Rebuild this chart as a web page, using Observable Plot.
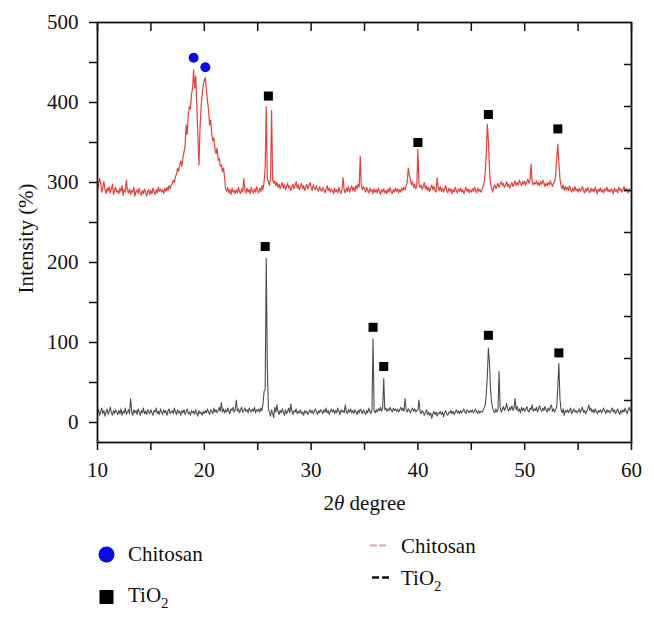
<!DOCTYPE html>
<html>
<head>
<meta charset="utf-8">
<script src="https://cdn.jsdelivr.net/npm/d3@7"></script>
<script src="https://cdn.jsdelivr.net/npm/@observablehq/plot@0.6"></script>
<style>
  html, body { margin: 0; padding: 0; background: #fff; }
  body { width: 654px; height: 621px; overflow: hidden; font-family: "Liberation Serif", serif; }
  #chart svg { display: block; }
  #legend { display: block; }
  #chart text, #legend text { font-family: "Liberation Serif", serif !important; }
</style>
</head>
<body>
<div id="chart"></div>
<svg id="legend" width="654" height="100"></svg>
<script>
// ---- data ----
const twoThetaStart = 10;
const twoThetaStep = 0.1;

// upper (red) pattern, 10.0 .. 60.0 step 0.1
const chitosanIntensity = [
  292,296,305,299,288,294,301,291,286,293,
  289,295,287,292,298,285,291,294,288,290,
  286,293,289,296,284,291,288,303,290,287,
  292,285,290,288,294,283,289,291,286,293,
  287,284,290,286,292,288,283,289,291,285,
  290,286,293,288,285,291,287,294,289,292,
  288,291,286,293,289,294,290,296,292,297,
  299,303,300,307,311,318,314,322,327,320,
  331,338,346,372,360,384,395,392,410,418,
  441,418,433,396,360,322,368,395,410,421,
  428,431,415,402,390,372,378,360,352,356,
  341,336,343,328,330,320,322,314,318,306,
  292,289,294,287,291,285,293,288,290,286,
  291,287,294,289,286,292,288,305,290,287,
  293,288,291,286,294,289,287,292,288,295,
  290,287,293,289,296,291,301,318,395,305,
  301,296,305,390,303,299,302,296,300,294,
  298,292,296,300,293,297,291,295,299,293,
  296,290,294,298,292,296,301,293,297,291,
  295,299,292,296,290,294,298,292,296,300,
  294,290,297,293,291,296,292,289,295,291,
  289,294,291,287,292,296,290,293,288,292,
  290,286,293,288,291,287,294,289,286,292,
  306,290,287,293,289,295,288,292,296,290,
  294,289,296,292,298,294,333,296,291,295,
  292,288,294,290,287,293,289,291,286,292,
  288,291,287,293,289,285,291,288,292,287,
  290,286,292,288,294,289,286,291,288,293,
  289,292,287,291,288,293,290,294,291,296,
  300,318,309,304,297,301,294,298,292,296,
  341,298,294,297,291,295,300,292,296,290,
  294,289,293,297,291,295,290,288,306,294,
  290,295,289,293,288,292,296,290,287,293,
  289,292,286,291,288,294,290,287,292,289,
  293,288,291,286,290,294,289,292,287,291,
  288,292,289,294,290,287,293,289,291,288,
  292,295,300,312,335,373,352,318,298,293,
  288,294,297,292,296,299,294,298,301,296,
  299,294,297,301,295,298,293,297,300,295,
  298,302,296,300,297,303,299,296,301,298,
  302,297,300,304,299,303,323,301,297,300,
  298,302,297,300,296,301,298,303,299,295,
  299,296,300,297,302,298,295,299,301,308,
  330,348,325,305,296,292,297,290,295,291,
  294,290,296,291,288,293,289,295,290,292,
  288,293,289,291,295,290,287,292,289,294,
  290,287,293,289,292,288,294,290,286,292,
  289,293,288,291,287,292,290,294,289,291,
  288,292,290,286,293,289,291,287,294,290,
  292,288,291,295,289,293,290,287,292,289,
  291
];

// lower (dark grey) pattern, 10.0 .. 60.0 step 0.1
const tio2Intensity = [
  12,16,9,14,18,11,15,8,13,17,
  10,14,19,12,9,15,11,16,13,10,
  15,11,17,9,14,12,18,10,13,16,
  11,30,14,9,16,12,15,10,17,13,
  9,15,12,18,11,14,10,16,13,11,
  16,12,9,15,13,18,11,14,10,17,
  13,10,16,12,15,9,14,17,11,13,
  15,11,18,13,10,16,12,14,9,15,
  12,16,10,14,17,11,13,9,15,12,
  14,10,16,12,8,15,11,13,9,14,
  11,15,12,17,13,10,16,14,11,18,
  13,16,12,15,19,14,25,13,17,12,
  16,13,18,14,11,17,15,19,13,16,
  28,14,17,12,16,19,13,15,18,14,
  16,12,18,15,13,17,14,19,12,16,
  14,17,13,18,15,24,39,41,205,70,
  18,12,8,16,11,6,19,13,22,14,
  10,15,12,17,13,9,16,11,14,18,
  12,23,14,10,15,13,17,11,14,12,
  16,11,13,9,15,12,14,10,13,16,
  12,15,11,14,17,13,10,15,12,16,
  14,11,16,13,18,12,15,10,14,17,
  13,16,11,15,12,18,14,10,16,13,
  15,12,22,14,11,16,13,17,12,15,
  11,16,13,10,15,12,17,14,11,16,
  13,10,15,12,18,14,11,16,105,14,
  12,16,13,17,15,19,14,18,55,16,
  18,14,17,15,19,16,13,18,15,17,
  14,17,13,16,19,15,18,14,30,16,
  13,17,15,12,16,18,14,17,13,15,
  16,28,14,11,15,13,9,12,16,10,
  13,9,12,5,11,14,10,13,8,12,
  11,14,10,13,7,12,15,11,9,13,
  12,15,11,14,10,13,16,12,14,11,
  15,12,14,17,13,11,16,14,12,15,
  13,16,12,14,17,13,11,15,12,14,
  13,15,18,22,35,58,93,75,42,25,
  18,14,12,17,13,16,64,19,13,16,
  20,15,18,24,17,14,19,16,21,15,
  18,30,16,20,14,17,12,19,15,18,
  14,17,20,15,13,18,16,22,14,17,
  15,19,13,17,21,16,14,18,15,20,
  16,13,18,15,19,22,14,17,13,16,
  20,45,74,30,16,12,17,9,15,13,
  16,12,15,18,11,14,17,13,15,12,
  14,17,12,16,19,13,15,11,14,17,
  22,15,18,13,16,12,17,14,11,15,
  13,16,12,15,18,14,11,16,13,15,
  12,15,18,13,16,11,14,17,13,10,
  15,12,16,13,18,14,11,16,19,14,
  17
];

// peak markers
const chitosanPeakTheta = [19.0, 20.1];
const chitosanPeakValue = [456, 444];
const tio2UpperPeakTheta = [26.0, 40.0, 46.6, 53.1];
const tio2UpperPeakValue = [408, 350, 385, 367];
const tio2LowerPeakTheta = [25.7, 35.8, 36.8, 46.6, 53.2];
const tio2LowerPeakValue = [220, 119, 70, 109, 87];

// axes
const xTicks = [10, 20, 30, 40, 50, 60];
const xMinorTicks = [15, 25, 35, 45, 55];
const yTicks = [0, 100, 200, 300, 400, 500];
const yMinorTicks = [50, 150, 250, 350, 450];
const rightTicks = [27.5, 80, 132.5, 185, 237.5, 290, 342.5, 395, 447.5];
const xLabel = "2θ degree";
const yLabel = "Intensity (%)";

// legend
const markerLegend = ["Chitosan", "TiO2"];
const lineLegend = ["Chitosan", "TiO2"];

// ---- build tables ----
const upper = chitosanIntensity.map((v, i) => ({theta: +(twoThetaStart + i * twoThetaStep).toFixed(1), value: v}));
const lower = tio2Intensity.map((v, i) => ({theta: +(twoThetaStart + i * twoThetaStep).toFixed(1), value: v}));
const chitosanPeaks = chitosanPeakTheta.map((t, i) => ({theta: t, value: chitosanPeakValue[i]}));
const tio2Peaks = tio2UpperPeakTheta.map((t, i) => ({theta: t, value: tio2UpperPeakValue[i]}))
  .concat(tio2LowerPeakTheta.map((t, i) => ({theta: t, value: tio2LowerPeakValue[i]})));

const SERIF = '"Liberation Serif", serif';
const blank = () => "";
const chart = Plot.plot({
  width: 654,
  height: 521,
  marginLeft: 97,
  marginRight: 23,
  marginTop: 22,
  marginBottom: 79,
  style: 'font-family: "Liberation Serif", serif; font-size: 21px; color: #111; background: #fff;',
  x: {domain: [10, 60]},
  y: {domain: [-25, 500]},
  marks: [
    Plot.line(lower, {x: "theta", y: "value", stroke: "#4d4d4d", strokeWidth: 1.1}),
    Plot.line(upper, {x: "theta", y: "value", stroke: "#e2433f", strokeWidth: 1.2}),
    Plot.dot(chitosanPeaks, {x: "theta", y: "value", r: 5, fill: "#0a0ae6", stroke: "none"}),
    Plot.dot(tio2Peaks, {x: "theta", y: "value", r: 5.1, symbol: "square", fill: "#000", stroke: "none"}),
    Plot.frame({stroke: "#111", strokeWidth: 1.8}),
    Plot.axisY({ticks: yTicks, tickSize: 8, tickPadding: 11, strokeWidth: 1.5, fontSize: 21, label: null, tickFormat: d => String(d)}),
    Plot.axisY({ticks: yMinorTicks, tickSize: 8, strokeWidth: 1.5, label: null, tickFormat: blank}),
    Plot.axisY({anchor: "right", ticks: rightTicks, tickSize: 8, dx: -8, strokeWidth: 1.5, label: null, tickFormat: blank}),
    Plot.axisX({ticks: xTicks, tickSize: 8, tickPadding: 12, strokeWidth: 1.5, fontSize: 21, label: null, tickFormat: d => String(d)}),
    Plot.axisX({ticks: xMinorTicks, tickSize: 8, strokeWidth: 1.5, label: null, tickFormat: blank}),
    Plot.axisX({anchor: "top", ticks: xTicks.concat(xMinorTicks), tickSize: 8, dy: 8, strokeWidth: 1.5, label: null, tickFormat: blank}),
    Plot.text([xLabel], {frameAnchor: "bottom", textAnchor: "middle", lineAnchor: "middle", dy: 61, text: d => d, fontSize: 21, fill: "#111"}),
    Plot.text([yLabel], {frameAnchor: "left", textAnchor: "middle", lineAnchor: "middle", dx: -71, dy: 6, rotate: -90, text: d => d, fontSize: 21, fill: "#111"})
  ]
});
document.getElementById("chart").appendChild(chart);

// serif text everywhere in the chart
d3.select(chart).selectAll("text").attr("font-family", SERIF).style("font-family", SERIF).style("font-variant", "normal");

// italic theta in the x label
d3.select(chart).selectAll("text").filter(function() { return this.textContent === xLabel; })
  .each(function() {
    const t = d3.select(this);
    t.text(null);
    t.append("tspan").text("2");
    t.append("tspan").attr("font-style", "italic").text("θ");
    t.append("tspan").text(" degree");
  });

// ---- legend below the chart ----
const leg = d3.select("#legend")
  .attr("font-family", SERIF)
  .style("font-family", SERIF)
  .attr("font-size", 21)
  .attr("fill", "#111");
const top0 = 521;
function label(g, x, y, s) {
  const t = g.append("text").attr("x", x).attr("y", y).style("font-family", SERIF).attr("font-size", 21);
  if (s === "TiO2") {
    t.append("tspan").text("TiO");
    t.append("tspan").attr("dy", 6).attr("font-size", 15).text("2");
  } else {
    t.text(s);
  }
}
// markers legend
leg.append("circle").attr("cx", 106.5).attr("cy", 554.5 - top0).attr("r", 8).attr("fill", "#0a0ae6");
label(leg, 128, 561 - top0, markerLegend[0]);
leg.append("rect").attr("x", 99.5).attr("y", 590 - top0).attr("width", 14).attr("height", 14).attr("fill", "#000");
label(leg, 128, 602 - top0, markerLegend[1]);
// line legend
leg.append("line").attr("x1", 370).attr("x2", 387).attr("y1", 545.5 - top0).attr("y2", 545.5 - top0)
  .attr("stroke", "#d8a8a8").attr("stroke-width", 2).attr("stroke-dasharray", "7,2");
label(leg, 401, 553 - top0, lineLegend[0]);
leg.append("line").attr("x1", 372).attr("x2", 390).attr("y1", 577.5 - top0).attr("y2", 577.5 - top0)
  .attr("stroke", "#111").attr("stroke-width", 2.5).attr("stroke-dasharray", "7,3");
label(leg, 401, 585 - top0, lineLegend[1]);
</script>
</body>
</html>
